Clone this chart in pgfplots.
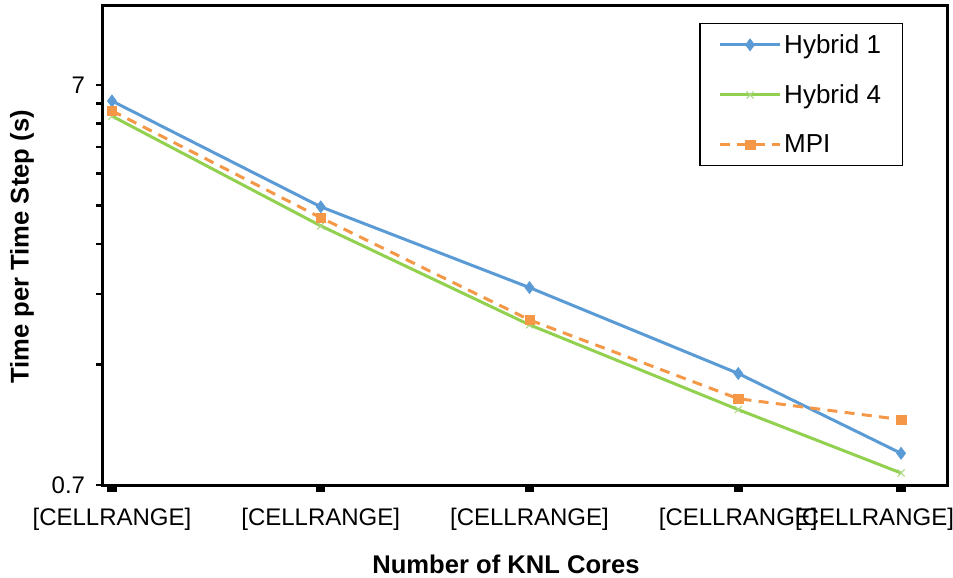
\documentclass[border=0pt]{standalone}
\usepackage{fontspec}
\setmainfont{Liberation Sans}
\usepackage{pgfplots}
\pgfplotsset{compat=1.18}
\definecolor{cblue}{RGB}{91,155,213}
\definecolor{cgreen}{RGB}{146,208,80}
\definecolor{cgreenl}{RGB}{170,215,130}
\definecolor{corange}{RGB}{244,152,72}
\begin{document}
\begin{tikzpicture}
\begin{axis}[
  scale only axis,
  width=633pt, height=359.25pt,
  at={(0,0)}, anchor=south west,
  ymode=log,
  xmin=-0.043, xmax=4.0,
  ymin=0.7, ymax=11.02,
  axis line style={line width=2.25pt},
  xtick={0,1,2,3,3.78},
  xticklabels={[CELLRANGE],[CELLRANGE],[CELLRANGE],[CELLRANGE],\hspace*{-39.75pt}[CELLRANGE]},
  ytick={0.7,7},
  yticklabels={0.7,7},
  minor ytick={1.4,2.1,2.8,3.5,4.2,4.9,5.6,6.3},
  log ticks with fixed point,
  /pgf/number format/assume math mode=true,
  tick align=outside,
  xtick pos=bottom, ytick pos=left,
  major tick length=5pt, minor tick length=5pt,
  xtick style={line width=7pt, black},
  ytick style={line width=2pt, black},
  minor tick style={line width=2pt, black},
  ticklabel style={font=\fontsize{18}{20}\selectfont},
  xticklabel style={anchor=base, inner sep=0pt, yshift=-25.5pt},
  yticklabel style={anchor=east, inner sep=0pt, xshift=-8.25pt},
  xlabel={Number of KNL Cores},
  ylabel={Time per Time Step (s)},
  label style={font=\fontsize{19.2}{22}\selectfont\bfseries},
  xlabel style={at={(axis description cs:0.4775,-0.165)}, anchor=center},
  ylabel style={at={(axis description cs:-0.096,0.497)}, anchor=center},
  legend style={at={(0.948,0.9645)}, anchor=north east, draw=black, line width=1.1pt,
    font=\fontsize{19.5}{22}\selectfont, row sep=18pt, inner xsep=14pt, inner ysep=6pt,
    cells={anchor=west}},
  legend image code/.code={\draw[mark repeat=2,mark phase=2] plot coordinates {(0pt,0pt) (22.5pt,0pt) (45pt,0pt)};},
]
\addplot[cblue, line width=2.25pt, mark=diamond*, mark size=4.5pt, mark options={solid, fill=cblue, draw=cblue, line width=0.5pt}]
  coordinates {(0,6.38) (1,3.47) (2,2.18) (3,1.33) (3.78,0.84)};
\addlegendentry{Hybrid 1}
\addplot[cgreen, line width=2.25pt, mark=x, mark size=3.75pt, mark options={solid, draw=cgreenl, line width=0.8pt}]
  coordinates {(0,5.85) (1,3.11) (2,1.76) (3,1.08) (3.78,0.75)};
\addlegendentry{Hybrid 4}
\addplot[corange, line width=2.25pt, dash pattern=on 7.5pt off 5.5pt, mark=square*, mark size=3.5pt, mark options={solid, fill=corange, draw=corange, line width=0.3pt}]
  coordinates {(0,6.03) (1,3.26) (2,1.81) (3,1.15) (3.78,1.02)};
\addlegendentry{MPI}
\end{axis}
\pgfresetboundingbox
\path[use as bounding box] (-77.25pt,-69.75pt) rectangle (637.5pt,363.75pt);
\end{tikzpicture}
\end{document}
